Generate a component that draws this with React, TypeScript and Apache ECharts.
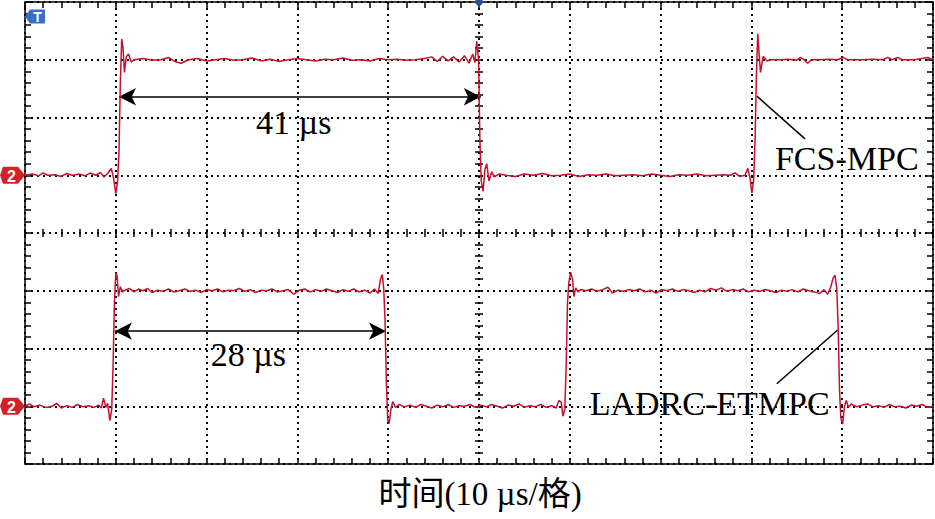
import React, { useEffect, useRef } from "react";
import * as echarts from "echarts";

// time axis (µs), 10 µs per division, 10 divisions
const X_MIN = 0;
const X_MAX = 100;
const X_STEP = 10;
// vertical axis in divisions, 8 divisions
const Y_MIN = -4;
const Y_MAX = 4;
const Y_STEP = 1;

// FCS-MPC trace [time µs, level div]
const fcsMpc: [number, number][] = [
  [0, 1.0], [0.8, 1.02], [1.5, 0.99], [2.0, 1.04], [2.5, 1.0], [3.3, 1.01], [4.0, 0.98], [4.6, 1.03],
  [5.2, 1.0], [6.0, 1.02], [6.6, 0.99], [7.2, 1.04], [7.8, 1.0], [8.3, 1.05], [8.7, 0.97], [9.1, 1.03],
  [9.5, 1.12], [9.75, 0.95], [10.0, 0.68], [10.2, 0.9], [10.35, 1.4], [10.5, 2.6], [10.65, 3.36],
  [10.8, 3.2], [10.95, 2.78], [11.15, 3.05], [11.4, 3.1], [11.7, 2.96], [12.0, 3.0],
  [13, 3.02], [14, 2.99], [15, 3.0], [15.8, 3.04], [16.5, 2.97], [17.2, 2.94], [18, 3.0], [19, 3.02],
  [20, 2.98], [21, 3.0], [22, 3.02], [23, 2.99], [24, 3.0], [25, 3.03], [26, 2.98], [27, 3.01],
  [28, 2.97], [29, 3.0], [30, 3.02], [31, 3.0], [32, 2.98], [33, 3.01], [34, 3.0], [35, 3.03],
  [36, 2.99], [37, 3.0], [38, 2.98], [39, 3.02], [40, 3.0], [41, 3.01], [42, 2.99], [43, 3.0],
  [44, 3.02], [44.8, 3.05], [45.4, 2.97], [46, 3.06], [46.6, 2.98], [47.2, 3.05], [47.8, 2.96],
  [48.4, 3.07], [48.9, 2.94], [49.3, 3.1], [49.55, 2.95], [49.75, 3.32], [49.95, 3.0], [50.1, 1.6],
  [50.25, 0.9], [50.45, 0.72], [50.65, 1.1], [50.85, 1.2], [51.1, 0.9], [51.4, 1.06], [51.7, 0.97],
  [52.2, 1.02], [53, 1.0], [54, 0.98], [55, 1.02], [56, 1.0], [57, 1.03], [58, 0.99], [59, 1.0],
  [60, 1.02], [61, 0.98], [62, 1.01], [63, 1.0], [64, 1.02], [65, 0.99], [66, 1.0], [67, 1.01],
  [68, 0.99], [69, 1.02], [70, 1.0], [71, 0.98], [72, 1.01], [73, 1.0], [74, 1.02], [75, 0.99],
  [76, 1.0], [77, 1.01], [77.7, 1.0], [78.2, 1.04], [78.7, 0.98], [79.3, 1.0], [79.6, 1.12],
  [79.85, 0.95], [80.05, 0.69], [80.25, 0.92], [80.4, 1.6], [80.55, 2.7], [80.7, 3.45], [80.85, 3.1],
  [81.0, 2.78], [81.3, 3.06], [81.7, 2.98], [82.2, 3.0], [83, 3.0], [84, 3.01], [85, 2.99],
  [85.4, 3.04], [85.8, 3.0], [86.2, 2.94], [86.6, 3.0], [87.5, 3.0], [88.5, 3.01], [89.5, 3.0],
  [90.1, 3.04], [90.6, 3.0], [92, 3.0], [93.5, 3.01], [94.5, 3.0], [95.0, 3.04], [95.5, 3.0],
  [96.1, 3.04], [96.6, 3.0], [98, 3.0], [99.4, 3.04], [100, 3.0],
];

// LADRC-ETMPC trace [time µs, level div]
const ladrcEtmpc: [number, number][] = [
  [0, -3.0], [0.5, -2.96], [1.0, -3.01], [1.6, -2.98], [2.3, -3.02], [3.0, -3.0], [3.5, -2.95],
  [4.0, -3.03], [4.6, -2.99], [5.2, -3.02], [5.8, -2.97], [6.4, -3.01], [7.0, -2.99], [7.6, -3.02],
  [8.1, -2.98], [8.4, -3.03], [8.65, -2.86], [8.9, -3.02], [9.1, -2.95], [9.35, -3.25], [9.55, -3.05],
  [9.7, -2.3], [9.85, -1.2], [10.0, -0.69], [10.15, -0.75], [10.3, -1.1], [10.5, -0.93], [10.75, -1.02],
  [11.0, -0.99], [11.5, -0.96], [12.0, -1.02], [12.5, -0.97], [13.0, -1.0], [13.5, -0.96], [14.0, -1.03],
  [14.6, -0.99], [15.2, -1.01], [15.8, -0.97], [16.4, -1.02], [17.0, -1.0], [17.6, -0.97], [18.2, -1.01],
  [18.8, -0.99], [19.4, -1.03], [20.0, -0.98], [20.6, -1.0], [21.2, -0.97], [21.8, -1.02], [22.4, -0.99],
  [23.0, -1.0], [23.6, -0.96], [24.2, -1.01], [24.8, -0.98], [25.4, -1.03], [26.0, -0.99], [26.6, -1.0],
  [27.2, -0.97], [27.8, -1.02], [28.4, -1.0], [29.0, -0.98], [29.6, -1.06], [30.2, -0.99], [30.8, -0.97],
  [31.4, -1.02], [32.0, -0.98], [32.6, -1.01], [33.2, -0.97], [33.8, -1.0], [34.4, -1.03], [35.0, -0.98],
  [35.6, -1.01], [36.2, -0.97], [36.8, -1.02], [37.4, -0.99], [38.0, -1.04], [38.5, -0.97], [38.9, -1.05],
  [39.15, -0.8], [39.35, -0.72], [39.5, -0.95], [39.65, -1.5], [39.8, -2.6], [39.95, -3.25], [40.1, -3.3],
  [40.3, -3.05], [40.5, -2.92], [40.8, -3.02], [41.2, -2.97], [41.8, -3.01], [42.4, -2.98], [43.0, -3.02],
  [43.6, -2.97], [44.2, -3.0], [44.8, -3.03], [45.4, -2.98], [46.0, -3.01], [46.6, -2.97], [47.2, -3.02],
  [47.8, -2.99], [48.4, -3.0], [49.0, -2.97], [49.6, -3.02], [50.2, -2.98], [50.8, -3.01], [51.4, -2.97],
  [52.0, -3.0], [52.6, -3.03], [53.2, -2.98], [53.8, -3.0], [54.4, -2.96], [55.0, -3.02], [55.6, -2.99],
  [56.2, -3.01], [56.8, -2.97], [57.4, -3.02], [58.0, -2.99], [58.5, -3.03], [58.8, -2.9], [59.05, -2.93],
  [59.25, -3.17], [59.45, -3.05], [59.6, -2.3], [59.75, -1.2], [59.9, -0.85], [60.1, -0.68], [60.3, -0.8],
  [60.45, -1.1], [60.65, -0.95], [60.9, -1.02], [61.2, -0.98], [61.8, -1.0], [62.4, -0.97], [63.0, -1.01],
  [63.6, -0.98], [64.2, -0.94], [64.7, -1.04], [65.3, -0.99], [65.9, -1.01], [66.5, -0.98], [67.1, -1.0],
  [67.7, -0.97], [68.3, -1.02], [68.9, -0.99], [69.5, -1.04], [70.1, -0.98], [70.7, -1.0], [71.3, -0.97],
  [71.9, -1.01], [72.5, -0.98], [73.1, -1.0], [73.7, -1.03], [74.3, -0.99], [74.9, -1.02], [75.5, -0.96],
  [76.1, -0.99], [76.7, -0.95], [77.3, -1.01], [77.9, -0.98], [78.5, -1.0], [79.1, -0.97], [79.7, -1.02],
  [80.3, -0.99], [80.9, -1.01], [81.5, -0.98], [82.1, -1.0], [82.7, -1.03], [83.3, -0.99], [83.9, -1.01],
  [84.5, -0.98], [85.1, -1.02], [85.7, -0.97], [86.3, -1.0], [86.9, -1.02], [87.5, -1.05], [88.0, -0.98],
  [88.4, -1.06], [88.75, -0.93], [89.0, -0.78], [89.2, -0.73], [89.4, -0.95], [89.55, -1.6], [89.7, -2.7],
  [89.85, -3.2], [90.05, -3.31], [90.25, -3.0], [90.45, -2.9], [90.7, -3.02], [91.0, -2.96], [91.6, -3.01],
  [92.2, -2.98], [92.8, -2.96], [93.4, -3.01], [94.0, -2.99], [94.6, -3.02], [95.2, -2.97], [95.8, -3.01],
  [96.4, -3.0], [97.0, -3.03], [97.6, -2.98], [98.2, -3.0], [98.8, -2.97], [99.4, -3.02], [100, -3.0],
];

// measurement arrows [x1, y1, x2, y2]
const arrows: [number, number, number, number][] = [
  [10.35, 2.36, 50.2, 2.36],
  [9.9, -1.7, 39.76, -1.7],
];
// leader lines [x1, y1, x2, y2]
const leaders: [number, number, number, number][] = [
  [80.6, 2.37, 85.9, 1.63],
  [89.5, -1.68, 82.8, -2.61],
];
// annotation texts [text, x, y]
const labels: [string, number, number][] = [
  ["41 µs", 29.6, 1.92],
  ["28 µs", 24.6, -2.1],
  ["FCS-MPC", 90.5, 1.29],
  ["LADRC-ETMPC", 75.4, -2.96],
];
// channel ground markers (level in div)
const channelLevels = [1, -3];
const axisTitle = "时间(10 µs/格)";

const RED = "#c8102e";
const SERIF = '"Liberation Serif", "Times New Roman", "Noto Sans CJK SC", serif';

function xAxisDef(position: "top" | "bottom", offset: number, inside: boolean, len: number, split: boolean) {
  return {
    type: "value",
    min: X_MIN,
    max: X_MAX,
    interval: X_STEP,
    position,
    offset,
    axisLine: { show: false, onZero: false },
    axisLabel: { show: false },
    axisTick: { show: true, inside, length: len, lineStyle: { color: "#000", width: 1.5 } },
    minorTick: { show: true, splitNumber: 5, length: len, lineStyle: { color: "#000", width: 1.5 } },
    splitLine: { show: split, lineStyle: { color: "#000", width: 2, type: [2, 4] } },
    minorSplitLine: { show: false },
  };
}
function yAxisDef(position: "left" | "right", offset: number, inside: boolean, len: number, split: boolean) {
  return {
    type: "value",
    min: Y_MIN,
    max: Y_MAX,
    interval: Y_STEP,
    position,
    offset,
    axisLine: { show: false, onZero: false },
    axisLabel: { show: false },
    axisTick: { show: true, inside, length: len, lineStyle: { color: "#000", width: 1.5 } },
    minorTick: { show: true, splitNumber: 5, length: len, lineStyle: { color: "#000", width: 1.5 } },
    splitLine: { show: split, lineStyle: { color: "#000", width: 2, type: [2, 4] } },
    minorSplitLine: { show: false },
  };
}

export default function App() {
  const ref = useRef<HTMLDivElement>(null);
  useEffect(() => {
    if (!ref.current) return;
    const chart = echarts.init(ref.current, undefined, { renderer: "svg" });
    const gridLeft = 25;
    const gridRight = 2;
    const gridTop = 2;
    const gridBottom = 55;
    const W = 935;
    const H = 519;
    const plotW = W - gridLeft - gridRight;
    const plotH = H - gridTop - gridBottom;

    const markLineData: any[] = [];
    arrows.forEach(([x1, y1, x2, y2]) => {
      markLineData.push([
        { coord: [x1, y1], symbol: "arrow" },
        { coord: [x2, y2], symbol: "arrow" },
      ]);
    });
    leaders.forEach(([x1, y1, x2, y2]) => {
      markLineData.push([
        { coord: [x1, y1], symbol: "none" },
        { coord: [x2, y2], symbol: "none" },
      ]);
    });

    chart.setOption({
      animation: false,
      backgroundColor: "#fff",
      grid: {
        left: gridLeft,
        right: gridRight,
        top: gridTop,
        bottom: gridBottom,
        show: true,
        borderColor: "#000",
        borderWidth: 1.5,
        backgroundColor: "#fff",
      },
      xAxis: [
        xAxisDef("bottom", 0, true, 6, true),
        xAxisDef("top", 0, true, 6, false),
        xAxisDef("bottom", -plotH / 2, true, 4, false),
        xAxisDef("bottom", -plotH / 2, false, 4, false),
      ],
      yAxis: [
        yAxisDef("left", 0, true, 6, true),
        yAxisDef("right", 0, true, 6, false),
        yAxisDef("left", -plotW / 2, true, 4, false),
        yAxisDef("left", -plotW / 2, false, 4, false),
      ],
      series: [
        {
          name: "FCS-MPC",
          type: "line",
          data: fcsMpc,
          showSymbol: false,
          symbol: "none",
          lineStyle: { color: RED, width: 1.5 },
          z: 5,
          markLine: {
            silent: true,
            symbolSize: [13, 17],
            lineStyle: { color: "#000", width: 1.5, type: "solid" },
            itemStyle: { color: "#000" },
            label: { show: false },
            emphasis: { disabled: true },
            data: markLineData,
          },
        },
        {
          name: "LADRC-ETMPC",
          type: "line",
          data: ladrcEtmpc,
          showSymbol: false,
          symbol: "none",
          lineStyle: { color: RED, width: 1.5 },
          z: 5,
        },
      ],
    });

    const graphics: any[] = [];
    labels.forEach(([text, x, y]) => {
      const p = chart.convertToPixel({ gridIndex: 0 }, [x, y]) as number[];
      graphics.push({
        type: "text",
        x: p[0],
        y: p[1],
        z: 20,
        style: {
          text,
          fill: "#000",
          font: `34px ${SERIF}`,
          align: "center",
          verticalAlign: "middle",
        },
      });
    });
    graphics.push({
      type: "text",
      x: 480,
      y: 494,
      style: {
        text: axisTitle,
        fill: "#000",
        font: `33px ${SERIF}`,
        align: "center",
        verticalAlign: "middle",
      },
    });
    // trigger "T" marker
    graphics.push({
      type: "polygon",
      z: 20,
      shape: { points: [[25, 16.5], [30, 9.5], [45, 9.5], [45, 23.5], [30, 23.5]] },
      style: { fill: "#3a6cc8" },
    });
    graphics.push({
      type: "text",
      z: 21,
      x: 37.5,
      y: 17,
      style: { text: "T", fill: "#fff", font: "bold 14px Arial, sans-serif", align: "center", verticalAlign: "middle" },
    });
    // trigger position diamond
    const cx = gridLeft + plotW / 2;
    graphics.push({
      type: "polygon",
      z: 20,
      shape: { points: [[cx, -3], [cx + 5, 2], [cx, 7], [cx - 5, 2]] },
      style: { fill: "#2c4f8c" },
    });
    // channel ground markers
    channelLevels.forEach((lv) => {
      const p = chart.convertToPixel({ gridIndex: 0 }, [0, lv]) as number[];
      const yy = p[1];
      graphics.push({
        type: "polygon",
        z: 20,
        shape: {
          points: [[3, yy - 8.5], [18, yy - 8.5], [25, yy], [18, yy + 8.5], [3, yy + 8.5], [0, yy]],
        },
        style: { fill: "#d42027" },
      });
      graphics.push({
        type: "text",
        z: 21,
        x: 11.5,
        y: yy + 1,
        style: { text: "2", fill: "#fff", font: "bold 16px Arial, sans-serif", align: "center", verticalAlign: "middle" },
      });
    });
    chart.setOption({ graphic: graphics });

    return () => chart.dispose();
  }, []);
  return (
    <div
      ref={ref}
      style={{ position: "fixed", left: 0, top: 0, width: 935, height: 519, background: "#fff" }}
    />
  );
}
